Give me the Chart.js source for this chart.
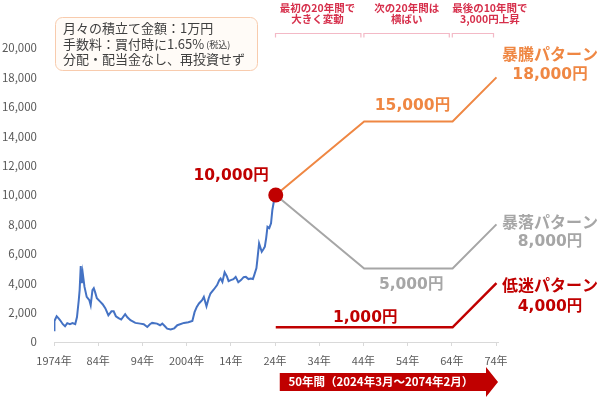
<!DOCTYPE html>
<html lang="ja">
<head>
<meta charset="utf-8">
<script src="https://cdn.jsdelivr.net/npm/chart.js@4.4.1/dist/chart.umd.min.js"></script>
<style>
  html, body { margin: 0; padding: 0; background: #fff; }
  #wrap { width: 600px; height: 397px; position: relative; }
</style>
</head>
<body>
<div id="wrap"><canvas id="chart"></canvas></div>
<script>
// historical price (1974 - 2024/3)
const HIST_YEARS = [
  1974.0, 1974.1, 1974.6, 1975.0, 1975.4, 1976.0, 1976.5, 1977.0, 1977.6, 1978.2,
  1978.8, 1979.2, 1979.6, 1979.8, 1980.05, 1980.3, 1980.5, 1980.9, 1981.4, 1982.0,
  1982.3, 1982.7, 1983.0, 1983.3, 1983.7, 1984.5, 1985.0, 1985.6, 1986.3, 1987.0,
  1987.5, 1988.0, 1988.6, 1989.2, 1990.1, 1990.6, 1991.3, 1992.4, 1993.5, 1994.3,
  1995.1, 1995.7, 1996.2, 1997.3, 1998.0, 1998.5, 1999.1, 1999.6, 2000.4, 2001.2,
  2001.9, 2003.4, 2004.4, 2005.3, 2005.8, 2006.3, 2006.8, 2007.5, 2007.9, 2008.5,
  2009.0, 2009.4, 2010.2, 2010.9, 2011.4, 2011.7, 2012.1, 2012.6, 2013.1, 2013.5,
  2014.0, 2014.6, 2015.1, 2015.7, 2016.3, 2016.9, 2017.4, 2018.0, 2018.5, 2019.0,
  2019.3, 2019.8, 2020.0, 2020.4, 2021.0, 2021.4, 2021.7, 2022.0, 2022.3, 2022.7,
  2023.1, 2023.4, 2023.8, 2024.17
];
const HIST_VALUES = [
  800, 1430, 1750, 1620, 1480, 1210, 1070, 1280, 1210, 1280,
  1210, 1700, 2840, 3530, 5160, 4000, 4690, 3750, 3070, 2840,
  2500, 3530, 3660, 3390, 2980, 2730, 2570, 2300, 1820, 2090,
  2090, 1750, 1620, 1530, 1890, 1680, 1480, 1300, 1250, 1210,
  1020, 1210, 1300, 1250, 1140, 1250, 1070, 910, 850, 930,
  1140, 1300, 1340, 1430, 2030, 2390, 2620, 2840, 3070, 2430,
  2980, 3300, 3590, 3870, 4210, 4320, 4090, 4750, 4480, 4140,
  4210, 4280, 4430, 4070, 4210, 4410, 4430, 4280, 4320, 4280,
  4550, 5030, 5570, 6710, 6140, 6320, 6480, 7070, 7840, 7750,
  8070, 8980, 9660, 10000
];

// 50-year scenarios (2024/3 - 2074/2)
const SCENARIO_YEARS = [2024.17, 2044.17, 2064.17, 2074.1];
const SURGE_VALUES = [10000, 15000, 15000, 18000];
const CRASH_VALUES = [10000, 5000, 5000, 8000];
const SLUMP_VALUES = [1000, 1000, 1000, 4000];
const START_YEAR = 2024.17;
const START_VALUE = 10000;

const X_TICK_YEARS = [1974, 1984, 1994, 2004, 2014, 2024, 2034, 2044, 2054, 2064, 2074];
const X_TICK_LABELS = ['1974年', '84年', '94年', '2004年', '14年', '24年', '34年', '44年', '54年', '64年', '74年'];
const Y_TICKS = [0, 2000, 4000, 6000, 8000, 10000, 12000, 14000, 16000, 18000, 20000];

const FONT = "'Noto Sans CJK JP', 'Noto Sans', sans-serif";
const NUM_FONT = "'DejaVu Sans', 'Noto Sans CJK JP', sans-serif";
const DARK_RED = '#c00000';
const ORANGE = '#ef8743';
const GRAY = '#a6a6a6';
const BLUE = '#4472c4';

function toPoints(xs, ys) {
    return xs.map((x, i) => ({ x: x, y: ys[i] }));
}

function text(ctx, str, x, y, font, color, align) {
    ctx.font = font;
    ctx.fillStyle = color;
    ctx.textAlign = align || 'center';
    ctx.textBaseline = 'middle';
    ctx.fillText(str, x, y);
}

const annotations = {
    id: 'annotations',
    afterDatasetsDraw(chart) {
        const ctx = chart.ctx;
        const xs = chart.scales.x;
        const ys = chart.scales.y;
        const px = v => xs.getPixelForValue(v);
        const py = v => ys.getPixelForValue(v);
        ctx.save();

        // info box
        ctx.beginPath();
        ctx.roundRect(55.5, 17.5, 202, 53, 7);
        ctx.fillStyle = '#fffbf7';
        ctx.fill();
        ctx.strokeStyle = '#f8cbad';
        ctx.lineWidth = 1;
        ctx.stroke();
        text(ctx, '月々の積立て金額：1万円', 63, 28.5, '13px ' + FONT, '#404040', 'left');
        text(ctx, '手数料：買付時に1.65%', 63, 44, '13px ' + FONT, '#404040', 'left');
        ctx.font = '13px ' + FONT;
        const w2 = ctx.measureText('手数料：買付時に1.65%').width;
        text(ctx, '(税込)', 63 + w2 + 2, 45, '9px ' + FONT, '#404040', 'left');
        text(ctx, '分配・配当金なし、再投資せず', 63, 59.5, '13px ' + FONT, '#404040', 'left');

        // period notes and brackets
        const notes = [
            [2024, 2044, 2033.6, '最初の20年間で', '大きく変動'],
            [2044, 2064, 2053.8, '次の20年間は', '横ばい'],
            [2064, 2074, 2072.6, '最後の10年間で', '3,000円上昇']
        ];
        notes.forEach(n => {
            const x0 = px(n[0]) + 0.5;
            const x1 = px(n[1]) - 2.5;
            const cx = px(n[2]);
            text(ctx, n[3], cx, 8, 'bold 10.5px ' + FONT, '#d62f4b');
            text(ctx, n[4], cx, 19, 'bold 10.5px ' + FONT, '#d62f4b');
            ctx.beginPath();
            ctx.moveTo(x0, 37.5);
            ctx.lineTo(x0, 33.5);
            ctx.lineTo(x1, 33.5);
            ctx.lineTo(x1, 37.5);
            ctx.strokeStyle = '#f3b9c6';
            ctx.lineWidth = 1.2;
            ctx.stroke();
        });

        // value labels
        const bold = 'bold 16px ' + FONT;
        const boldNum = 'bold 15.5px ' + NUM_FONT;
        text(ctx, '10,000円', px(START_YEAR) - 7, py(START_VALUE) - 19, boldNum, DARK_RED, 'right');
        text(ctx, '15,000円', px(2055.1), py(15000) - 16, boldNum, ORANGE);
        text(ctx, '5,000円', px(2054.8), py(5000) + 16, boldNum, GRAY);
        text(ctx, '1,000円', px(2044.4), py(1000) - 9, boldNum, DARK_RED);

        const rx = 550;
        text(ctx, '暴騰パターン', rx, py(18000) - 23.5, bold, ORANGE);
        text(ctx, '18,000円', rx, py(18000) - 2.5, boldNum, ORANGE);
        text(ctx, '暴落パターン', rx, py(8000) - 2.5, bold, GRAY);
        text(ctx, '8,000円', rx, py(8000) + 17.5, boldNum, GRAY);
        text(ctx, '低迷パターン', rx, py(4000) + 2, bold, DARK_RED);
        text(ctx, '4,000円', rx, py(4000) + 23.5, boldNum, DARK_RED);

        // 50-year arrow
        const ax0 = px(START_YEAR) + 4;
        const ax1 = px(2074) - 10;
        const tip = px(2074) + 2;
        ctx.beginPath();
        ctx.moveTo(ax0, 373);
        ctx.lineTo(ax1, 373);
        ctx.lineTo(ax1, 367);
        ctx.lineTo(tip, 382);
        ctx.lineTo(ax1, 397);
        ctx.lineTo(ax1, 391);
        ctx.lineTo(ax0, 391);
        ctx.closePath();
        ctx.fillStyle = DARK_RED;
        ctx.fill();
        text(ctx, '50年間（2024年3月～2074年2月）', (ax0 + ax1) / 2 - 2, 382, 'bold 11.5px ' + FONT, '#ffffff');

        ctx.restore();
    }
};

new Chart(document.getElementById('chart'), {
    type: 'line',
    data: {
        datasets: [
            {
                type: 'scatter',
                data: [{ x: START_YEAR, y: START_VALUE }],
                pointRadius: 7.5,
                pointBackgroundColor: DARK_RED,
                pointBorderWidth: 0,
                clip: false,
                order: 0
            },
            {
                data: toPoints(HIST_YEARS, HIST_VALUES),
                borderColor: BLUE,
                borderWidth: 2,
                pointRadius: 0,
                tension: 0,
                order: 1
            },
            {
                data: toPoints(SCENARIO_YEARS, SURGE_VALUES),
                borderColor: ORANGE,
                borderWidth: 2,
                pointRadius: 0,
                tension: 0,
                order: 1
            },
            {
                data: toPoints(SCENARIO_YEARS, CRASH_VALUES),
                borderColor: GRAY,
                borderWidth: 2,
                pointRadius: 0,
                tension: 0,
                order: 1
            },
            {
                data: toPoints(SCENARIO_YEARS, SLUMP_VALUES),
                borderColor: DARK_RED,
                borderWidth: 2.5,
                pointRadius: 0,
                tension: 0,
                order: 1
            }
        ]
    },
    options: {
        responsive: true,
        maintainAspectRatio: false,
        animation: false,
        layout: {
            padding: { top: 48, right: 102, bottom: 0, left: 0 }
        },
        plugins: {
            legend: { display: false },
            tooltip: { enabled: false }
        },
        scales: {
            x: {
                type: 'linear',
                min: 1974,
                max: 2074.45,
                afterFit: scale => { scale.height = 55; },
                afterBuildTicks: scale => {
                    scale.ticks = X_TICK_YEARS.map(v => ({ value: v }));
                },
                grid: {
                    drawOnChartArea: false,
                    drawTicks: true,
                    tickLength: 4,
                    color: '#d9d9d9'
                },
                border: { color: '#d9d9d9' },
                ticks: {
                    padding: 8,
                    maxRotation: 0,
                    autoSkip: false,
                    color: '#595959',
                    font: { family: FONT, size: 11 },
                    callback: value => X_TICK_LABELS[X_TICK_YEARS.indexOf(value)]
                }
            },
            y: {
                min: 0,
                max: 20000,
                afterFit: scale => { scale.width = 54; },
                afterBuildTicks: scale => {
                    scale.ticks = Y_TICKS.map(v => ({ value: v }));
                },
                grid: { display: false, drawTicks: false },
                border: { display: false },
                ticks: {
                    padding: 17,
                    color: '#595959',
                    font: { family: FONT, size: 11.5 },
                    callback: value => value.toLocaleString('en-US')
                }
            }
        }
    },
    plugins: [annotations]
});
</script>
</body>
</html>
